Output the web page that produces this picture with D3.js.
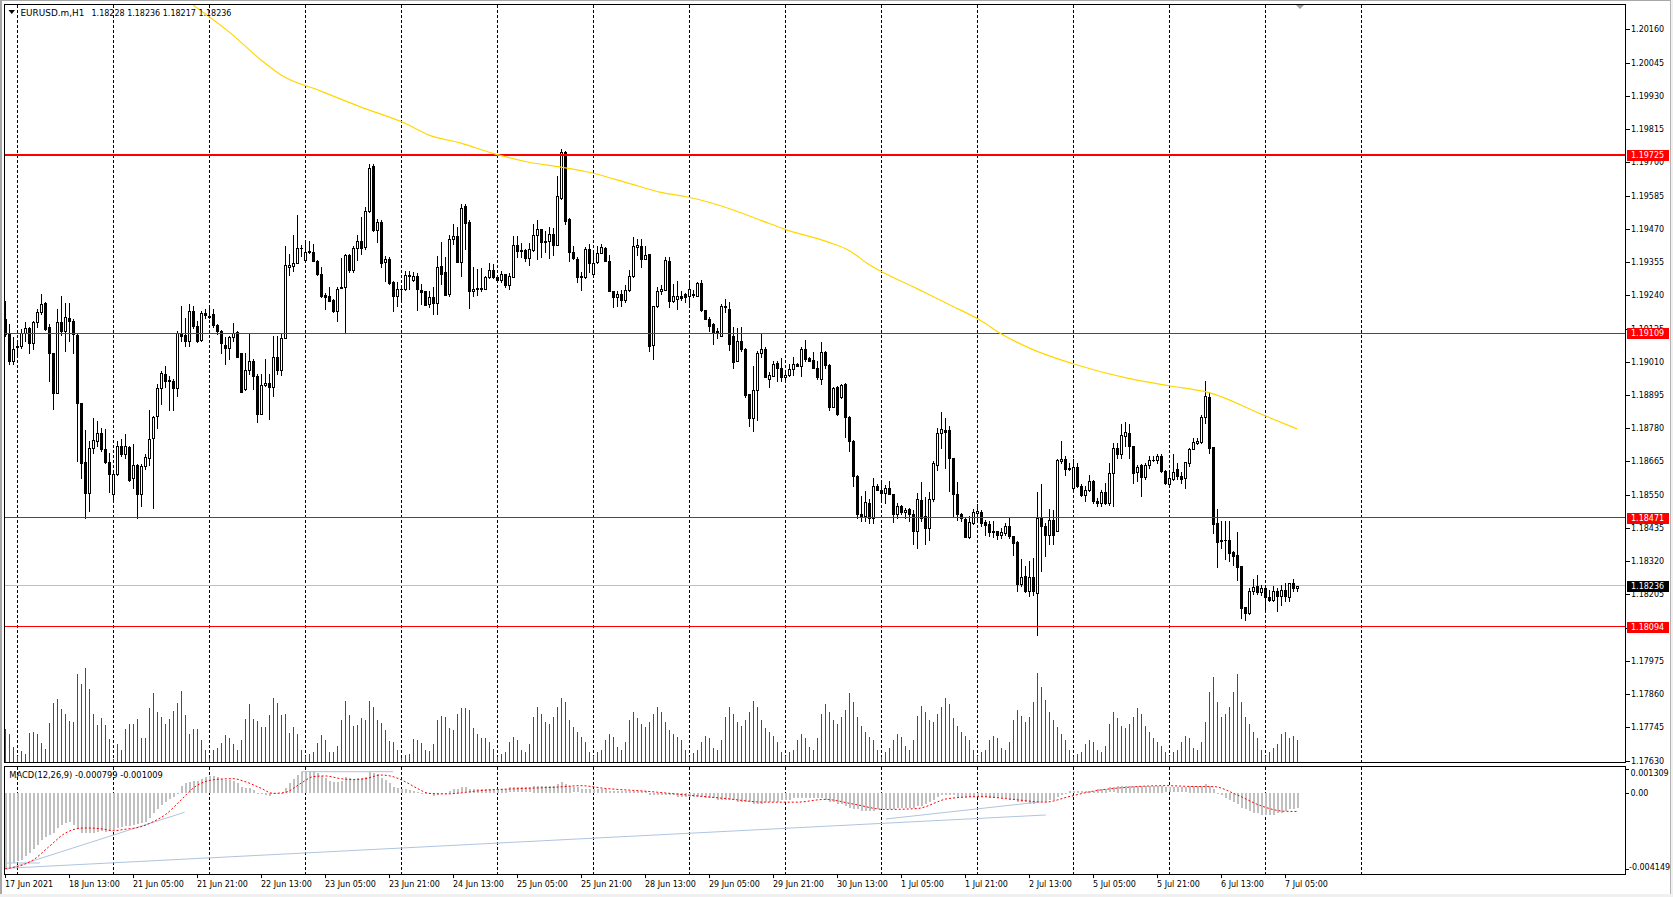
<!DOCTYPE html>
<html><head><meta charset="utf-8">
<script src="https://cdn.jsdelivr.net/npm/d3@7"></script>
<style>
body{margin:0;background:#fff;overflow:hidden;}
svg{display:block;}
text{font-family:"DejaVu Sans",sans-serif;}
</style>
</head><body>
<svg id="c" width="1673" height="897"></svg>
<script>
// ---------------- DATA ----------------
const symbol = "EURUSD.m,H1";
const lastOHLC = ["1.18228","1.18236","1.18217","1.18236"];
const macdTitle = "MACD(12,26,9) -0.000799 -0.001009";

const open = [
1.19158,1.19111,1.19013,1.19060,1.19065,1.19111,1.19126,1.19074,1.19146,1.19181,
1.19213,1.19131,1.19040,1.18903,1.19146,1.19117,1.19160,1.19152,1.19103,1.18866,
1.18663,1.18557,1.18710,1.18736,1.18765,1.18707,1.18664,1.18551,1.18623,1.18719,
1.18692,1.18715,1.18609,1.18653,1.18553,1.18649,1.18678,1.18747,1.18823,1.18918,
1.18967,1.18946,1.18942,1.18918,1.19106,1.19102,1.19083,1.19184,1.19134,1.19085,
1.19178,1.19169,1.19175,1.19138,1.19115,1.19069,1.19059,1.19094,1.19114,1.19040,
1.18917,1.18982,1.19013,1.18961,1.18831,1.18930,1.18936,1.18921,1.19027,1.18982,
1.19092,1.19337,1.19340,1.19352,1.19404,1.19363,1.19391,1.19389,1.19360,1.19314,
1.19242,1.19239,1.19224,1.19187,1.19265,1.19270,1.19381,1.19329,1.19404,1.19426,
1.19406,1.19530,1.19686,1.19466,1.19495,1.19354,1.19366,1.19287,1.19236,1.19262,
1.19262,1.19310,1.19293,1.19308,1.19258,1.19254,1.19210,1.19235,1.19212,1.19340,
1.19320,1.19245,1.19433,1.19444,1.19355,1.19548,1.19492,1.19254,1.19266,1.19260,
1.19261,1.19303,1.19326,1.19303,1.19293,1.19314,1.19274,1.19303,1.19415,1.19393,
1.19397,1.19368,1.19395,1.19449,1.19470,1.19424,1.19426,1.19453,1.19415,1.19577,
1.19736,1.19505,1.19391,1.19366,1.19305,1.19303,1.19399,1.19314,1.19355,1.19387,
1.19404,1.19360,1.19256,1.19233,1.19245,1.19222,1.19259,1.19306,1.19406,1.19409,
1.19366,1.19383,1.19068,1.19204,1.19254,1.19259,1.19360,1.19219,1.19227,1.19236,
1.19245,1.19239,1.19244,1.19239,1.19282,1.19189,1.19158,1.19141,1.19118,1.19100,
1.19202,1.19193,1.19098,1.19014,1.19083,1.19054,1.18898,1.18817,1.18912,1.19040,
1.19054,1.18950,1.18962,1.19004,1.18988,1.18956,1.18965,1.18985,1.19002,1.18996,
1.19054,1.19023,1.19016,1.18988,1.18950,1.19043,1.19000,1.18855,1.18923,1.18889,
1.18933,1.18819,1.18736,1.18615,1.18482,1.18476,1.18521,1.18470,1.18580,1.18568,
1.18557,1.18574,1.18553,1.18484,1.18511,1.18491,1.18499,1.18484,1.18424,1.18532,
1.18476,1.18436,1.18534,1.18653,1.18763,1.18774,1.18773,1.18676,1.18551,1.18484,
1.18467,1.18403,1.18453,1.18487,1.18490,1.18455,1.18449,1.18424,1.18424,1.18412,
1.18418,1.18441,1.18407,1.18386,1.18241,1.18268,1.18216,1.18264,1.18210,1.18470,
1.18441,1.18412,1.18464,1.18426,1.18667,1.18675,1.18643,1.18574,1.18646,1.18580,
1.18549,1.18565,1.18597,1.18530,1.18522,1.18559,1.18522,1.18626,1.18713,1.18690,
1.18754,1.18763,1.18719,1.18630,1.18652,1.18612,1.18653,1.18669,1.18669,1.18684,
1.18632,1.18588,1.18603,1.18638,1.18615,1.18607,1.18661,1.18709,1.18730,1.18734,
1.18819,1.18888,1.18715,1.18453,1.18389,1.18395,1.18395,1.18351,1.18343,1.18303,
1.18160,1.18141,1.18218,1.18233,1.18214,1.18227,1.18195,1.18187,1.18216,1.18199,
1.18222,1.18196,1.18243,1.18228];

const high = [
1.19221,1.19140,1.19094,1.19083,1.19123,1.19146,1.19129,1.19152,1.19192,1.19244,
1.19215,1.19140,1.19042,1.19192,1.19239,1.19212,1.19212,1.19158,1.19111,1.18866,
1.18773,1.18736,1.18817,1.18805,1.18782,1.18776,1.18695,1.18626,1.18736,1.18744,
1.18759,1.18719,1.18724,1.18655,1.18655,1.18690,1.18842,1.18823,1.18932,1.18979,
1.18996,1.18961,1.18950,1.19115,1.19204,1.19163,1.19210,1.19204,1.19152,1.19187,
1.19192,1.19198,1.19192,1.19140,1.19120,1.19094,1.19100,1.19144,1.19117,1.19040,
1.19042,1.19108,1.19019,1.18967,1.18967,1.19019,1.18967,1.19100,1.19100,1.19111,
1.19409,1.19383,1.19450,1.19519,1.19415,1.19429,1.19427,1.19418,1.19362,1.19337,
1.19247,1.19268,1.19227,1.19270,1.19369,1.19383,1.19383,1.19409,1.19450,1.19510,
1.19545,1.19695,1.19693,1.19504,1.19499,1.19377,1.19372,1.19291,1.19285,1.19268,
1.19325,1.19323,1.19322,1.19316,1.19279,1.19256,1.19254,1.19268,1.19377,1.19424,
1.19372,1.19450,1.19485,1.19476,1.19557,1.19557,1.19499,1.19337,1.19331,1.19335,
1.19308,1.19351,1.19349,1.19308,1.19323,1.19314,1.19316,1.19444,1.19444,1.19420,
1.19401,1.19420,1.19485,1.19501,1.19470,1.19464,1.19476,1.19474,1.19652,1.19747,
1.19739,1.19508,1.19409,1.19372,1.19320,1.19406,1.19418,1.19395,1.19412,1.19416,
1.19406,1.19378,1.19256,1.19256,1.19259,1.19277,1.19328,1.19441,1.19435,1.19435,
1.19412,1.19383,1.19204,1.19268,1.19274,1.19374,1.19374,1.19279,1.19289,1.19254,
1.19248,1.19291,1.19259,1.19285,1.19293,1.19189,1.19164,1.19143,1.19127,1.19210,
1.19227,1.19216,1.19129,1.19127,1.19129,1.19058,1.18900,1.18996,1.19048,1.19108,
1.19060,1.18973,1.19014,1.19014,1.19022,1.18973,1.19002,1.19025,1.19005,1.19062,
1.19085,1.19025,1.19043,1.19014,1.19077,1.19048,1.19002,1.18921,1.18927,1.18933,
1.18935,1.18823,1.18740,1.18620,1.18545,1.18563,1.18534,1.18609,1.18586,1.18597,
1.18582,1.18597,1.18553,1.18522,1.18516,1.18503,1.18505,1.18496,1.18557,1.18594,
1.18543,1.18559,1.18667,1.18782,1.18837,1.18817,1.18788,1.18678,1.18594,1.18487,
1.18468,1.18478,1.18499,1.18519,1.18496,1.18461,1.18459,1.18459,1.18426,1.18436,
1.18453,1.18470,1.18407,1.18389,1.18326,1.18303,1.18322,1.18332,1.18559,1.18586,
1.18453,1.18499,1.18496,1.18672,1.18736,1.18684,1.18661,1.18672,1.18661,1.18586,
1.18580,1.18618,1.18600,1.18540,1.18568,1.18592,1.18661,1.18730,1.18730,1.18796,
1.18800,1.18796,1.18719,1.18653,1.18657,1.18661,1.18684,1.18684,1.18690,1.18690,
1.18634,1.18632,1.18690,1.18661,1.18630,1.18664,1.18713,1.18747,1.18747,1.18826,
1.18944,1.18907,1.18715,1.18501,1.18459,1.18459,1.18459,1.18355,1.18420,1.18303,
1.18160,1.18227,1.18260,1.18274,1.18239,1.18239,1.18222,1.18233,1.18227,1.18239,
1.18245,1.18245,1.18260,1.18236];

const low = [
1.19100,1.19002,1.19002,1.19025,1.19059,1.19083,1.19040,1.19054,1.19129,1.19175,
1.19121,1.18944,1.18846,1.18901,1.19103,1.19046,1.19083,1.19042,1.18667,1.18609,
1.18470,1.18493,1.18695,1.18719,1.18701,1.18661,1.18560,1.18534,1.18620,1.18684,
1.18678,1.18597,1.18574,1.18470,1.18511,1.18638,1.18653,1.18505,1.18782,1.18863,
1.18921,1.18842,1.18842,1.18892,1.19083,1.19065,1.19065,1.19126,1.19077,1.19083,
1.19163,1.19163,1.19129,1.19106,1.19042,1.19002,1.19019,1.19083,1.19025,1.18907,
1.18912,1.18967,1.18915,1.18803,1.18831,1.18927,1.18811,1.18892,1.18967,1.18965,
1.19092,1.19310,1.19323,1.19352,1.19377,1.19360,1.19387,1.19358,1.19311,1.19233,
1.19192,1.19221,1.19181,1.19152,1.19265,1.19109,1.19320,1.19320,1.19362,1.19383,
1.19400,1.19528,1.19464,1.19424,1.19337,1.19291,1.19279,1.19187,1.19202,1.19227,
1.19258,1.19262,1.19291,1.19189,1.19210,1.19207,1.19200,1.19175,1.19175,1.19279,
1.19242,1.19239,1.19418,1.19355,1.19308,1.19401,1.19195,1.19239,1.19241,1.19256,
1.19261,1.19300,1.19300,1.19285,1.19285,1.19268,1.19260,1.19303,1.19372,1.19372,
1.19358,1.19343,1.19393,1.19366,1.19372,1.19389,1.19368,1.19381,1.19415,1.19574,
1.19487,1.19360,1.19366,1.19285,1.19259,1.19300,1.19320,1.19312,1.19351,1.19386,
1.19358,1.19254,1.19198,1.19204,1.19204,1.19216,1.19256,1.19303,1.19378,1.19337,
1.19364,1.19048,1.19019,1.19198,1.19245,1.19259,1.19198,1.19216,1.19193,1.19222,
1.19216,1.19198,1.19233,1.19239,1.19187,1.19158,1.19118,1.19071,1.19092,1.19100,
1.19181,1.19051,1.18988,1.19011,1.19048,1.18889,1.18788,1.18771,1.18808,1.19025,
1.18956,1.18923,1.18959,1.18944,1.18944,1.18950,1.18959,1.18965,1.18994,1.18962,
1.19014,1.19014,1.18988,1.18950,1.18933,1.18990,1.18843,1.18854,1.18826,1.18886,
1.18750,1.18702,1.18580,1.18470,1.18459,1.18459,1.18453,1.18453,1.18565,1.18534,
1.18522,1.18551,1.18455,1.18470,1.18482,1.18470,1.18459,1.18380,1.18366,1.18459,
1.18378,1.18395,1.18530,1.18635,1.18713,1.18644,1.18563,1.18476,1.18464,1.18459,
1.18403,1.18401,1.18450,1.18464,1.18441,1.18412,1.18407,1.18403,1.18397,1.18401,
1.18412,1.18401,1.18343,1.18216,1.18233,1.18212,1.18199,1.18204,1.18065,1.18285,
1.18337,1.18380,1.18380,1.18424,1.18661,1.18620,1.18635,1.18568,1.18576,1.18545,
1.18528,1.18563,1.18522,1.18511,1.18511,1.18519,1.18514,1.18511,1.18678,1.18678,
1.18719,1.18676,1.18592,1.18597,1.18545,1.18603,1.18643,1.18667,1.18661,1.18630,
1.18586,1.18586,1.18600,1.18603,1.18592,1.18574,1.18649,1.18707,1.18727,1.18730,
1.18799,1.18696,1.18418,1.18299,1.18366,1.18326,1.18322,1.18308,1.18256,1.18123,
1.18118,1.18137,1.18207,1.18207,1.18204,1.18156,1.18184,1.18181,1.18149,1.18170,
1.18181,1.18181,1.18218,1.18217];

const close = [
1.19106,1.19013,1.19054,1.19065,1.19111,1.19126,1.19074,1.19146,1.19181,1.19210,
1.19123,1.19040,1.18901,1.19146,1.19115,1.19166,1.19150,1.19106,1.18869,1.18661,
1.18557,1.18710,1.18738,1.18765,1.18707,1.18664,1.18623,1.18623,1.18719,1.18692,
1.18719,1.18601,1.18653,1.18553,1.18649,1.18680,1.18742,1.18819,1.18918,1.18970,
1.18944,1.18942,1.18918,1.19111,1.19100,1.19083,1.19184,1.19132,1.19083,1.19178,
1.19173,1.19166,1.19138,1.19115,1.19074,1.19059,1.19094,1.19111,1.19028,1.18907,
1.18982,1.19013,1.18961,1.18831,1.18930,1.18936,1.18924,1.19025,1.18982,1.19092,
1.19343,1.19343,1.19352,1.19404,1.19402,1.19391,1.19393,1.19360,1.19314,1.19236,
1.19233,1.19221,1.19187,1.19262,1.19270,1.19381,1.19329,1.19404,1.19426,1.19404,
1.19530,1.19681,1.19466,1.19495,1.19351,1.19366,1.19281,1.19236,1.19262,1.19260,
1.19310,1.19308,1.19308,1.19262,1.19250,1.19207,1.19235,1.19212,1.19339,1.19314,
1.19242,1.19433,1.19444,1.19355,1.19543,1.19490,1.19254,1.19262,1.19260,1.19266,
1.19303,1.19326,1.19303,1.19293,1.19314,1.19274,1.19308,1.19415,1.19393,1.19397,
1.19368,1.19401,1.19449,1.19470,1.19424,1.19426,1.19453,1.19415,1.19582,1.19736,
1.19497,1.19389,1.19368,1.19303,1.19303,1.19401,1.19352,1.19351,1.19386,1.19406,
1.19360,1.19256,1.19233,1.19245,1.19222,1.19259,1.19306,1.19412,1.19415,1.19366,
1.19381,1.19066,1.19204,1.19254,1.19262,1.19363,1.19219,1.19236,1.19236,1.19231,
1.19233,1.19262,1.19242,1.19282,1.19189,1.19158,1.19135,1.19112,1.19109,1.19202,
1.19198,1.19071,1.19008,1.19081,1.19054,1.18896,1.18817,1.18912,1.19040,1.19054,
1.18956,1.18964,1.19002,1.18988,1.18956,1.18964,1.18985,1.19002,1.18996,1.19054,
1.19019,1.19014,1.18988,1.18956,1.19043,1.19000,1.18855,1.18919,1.18829,1.18929,
1.18819,1.18736,1.18615,1.18482,1.18476,1.18525,1.18470,1.18580,1.18568,1.18557,
1.18574,1.18553,1.18482,1.18511,1.18491,1.18496,1.18484,1.18424,1.18534,1.18470,
1.18436,1.18534,1.18661,1.18763,1.18776,1.18767,1.18676,1.18551,1.18482,1.18468,
1.18403,1.18455,1.18490,1.18493,1.18453,1.18445,1.18420,1.18422,1.18409,1.18422,
1.18441,1.18407,1.18384,1.18241,1.18264,1.18216,1.18264,1.18218,1.18470,1.18441,
1.18412,1.18464,1.18412,1.18669,1.18675,1.18638,1.18638,1.18646,1.18580,1.18549,
1.18565,1.18597,1.18528,1.18522,1.18559,1.18522,1.18626,1.18713,1.18690,1.18756,
1.18767,1.18719,1.18626,1.18647,1.18612,1.18652,1.18669,1.18670,1.18684,1.18632,
1.18592,1.18607,1.18630,1.18615,1.18603,1.18663,1.18709,1.18732,1.18736,1.18819,
1.18891,1.18713,1.18449,1.18387,1.18395,1.18393,1.18349,1.18337,1.18300,1.18158,
1.18141,1.18218,1.18230,1.18214,1.18227,1.18195,1.18187,1.18216,1.18199,1.18222,
1.18199,1.18243,1.18228,1.18236];

// tick volume (hundreds of ticks)
const volume = [
33,28,15,6,11,8,29,30,28,19,13,39,59,63,53,48,41,40,88,78,94,73,48,37,44,37,23,
3,18,12,33,38,38,43,24,24,54,69,50,45,38,43,51,59,71,47,28,33,33,22,12,
4,12,14,19,27,24,18,12,22,43,58,43,41,35,35,47,64,59,47,48,29,35,28,12,
6,8,10,19,27,22,10,10,16,42,61,47,36,37,44,42,61,55,42,39,32,21,20,12,
4,7,8,23,22,19,12,11,18,42,46,45,34,32,48,54,54,52,34,28,24,24,20,13,
5,8,10,20,25,22,12,10,18,45,55,48,40,38,45,55,64,60,42,35,30,25,20,10,
6,10,12,22,28,25,15,12,20,42,50,44,38,35,40,48,55,50,40,32,28,25,22,12,
5,9,12,20,26,24,14,12,22,45,55,48,40,36,42,50,61,55,42,34,30,26,20,10,
6,10,12,22,28,24,15,12,24,48,58,50,42,38,45,52,69,60,45,36,30,25,22,12,
5,10,14,22,28,25,16,12,22,46,56,50,42,40,48,55,64,58,44,36,30,26,22,12,
6,10,12,22,26,24,14,12,20,42,52,46,40,45,60,89,75,62,50,42,35,28,22,12,
5,8,10,18,22,20,12,10,16,38,50,44,36,34,38,45,54,48,36,30,24,20,16,10,
6,10,12,20,26,24,14,12,20,40,70,85,60,45,48,55,70,88,60,45,38,30,24,12,
6,10,14,18,28,30,24,26,22];

// MACD main (histogram)
const macdHist = [
-0.004149,-0.00406,-0.00384,-0.0037,-0.00366,-0.00344,-0.00329,-0.00307,-0.00284,-0.00257,
-0.00242,-0.00229,-0.0022,-0.00193,-0.00175,-0.00165,-0.00157,-0.00175,-0.00198,-0.00217,
-0.0022,-0.0022,-0.00217,-0.00211,-0.00207,-0.00211,-0.00207,-0.00202,-0.00193,-0.00187,
-0.0018,-0.0018,-0.00175,-0.00169,-0.00165,-0.0016,-0.00138,-0.00111,-0.00089,-0.00066,
-0.00047,-0.00034,-0.0002,-0.00005,0.00038,0.00053,0.00062,0.00066,0.00066,0.00075,
0.00086,0.00093,0.00093,0.00086,0.00075,0.00071,0.00071,0.00067,0.00056,0.00034,
0.00026,0.00026,0.00016,-0.00005,-0.00008,-0.00012,-0.00016,-0.00007,-0.00002,-0.00002,
0.00026,0.00056,0.00075,0.00098,0.00116,0.00121,0.0012,0.0012,0.00107,0.00093,
0.0008,0.00067,0.00062,0.00062,0.00067,0.00086,0.0008,0.00075,0.0008,0.0008,
0.00089,0.00116,0.00111,0.00104,0.0008,0.00071,0.00053,0.00034,0.00026,0.0002,
0.0002,0.00016,0.00011,0.00005,-0.00002,-0.00005,-0.00007,-0.00016,-0.00012,-0.00008,
-0.00008,
0.0001,0.0002,0.0002,0.0003,0.0003,0.0002,0.0002,0.0002,0.0002,0.0002,0.0002,0.0002,0.0002,0.0002,0.0002,0.0003,0.0003,0.0003,0.0003,0.0003,0.0003,0.0004,0.0004,0.0004,0.0004,0.0004,0.0004,
0.0005,0.0006,0.0005,0.0004,0.0003,
0.0003,0.0002,0.0002,0.0002,0.0002,0.0002,0.0002,0.0002,0.0001,0.0001,0.0001,0.0001,0.0001,0.0001,0.0001,0.0001,0.0001,0.0001,
-0.0001,-0.0001,-0.0001,-0.0001,-0.0001,-0.0001,-0.0001,-0.0002,-0.0002,-0.0002,-0.0002,-0.0002,-0.0002,-0.0002,-0.0003,
-0.0003,-0.0003,-0.0004,-0.0004,-0.0004,-0.0004,-0.0004,-0.0005,-0.0005,-0.0005,-0.0005,-0.0006,-0.0006,-0.0006,-0.0005,-0.0005,-0.0005,-0.0005,-0.0004,-0.0004,
-0.0004,-0.0003,-0.0003,-0.0003,-0.0003,-0.0003,-0.0003,-0.0003,-0.0003,-0.0004,
-0.0005,-0.0005,-0.0006,-0.0006,-0.0007,-0.0008,-0.0009,-0.0009,-0.001,-0.001,-0.001,-0.001,-0.0009,-0.0009,-0.0009,-0.0009,-0.0009,-0.0008,-0.0008,-0.0008,
-0.0008,-0.0008,-0.0007,-0.0007,-0.0006,-0.0005,-0.0004,-0.0002,-0.0001,-0.0001,
-0.0001,-0.0001,-0.0002,-0.0002,-0.0002,-0.0002,-0.0002,-0.0002,-0.0002,-0.0002,
-0.0003,-0.0003,-0.0003,-0.0003,-0.0003,-0.0004,-0.0004,-0.0005,-0.0005,-0.0005,-0.0006,-0.0006,-0.0005,-0.0005,-0.0005,-0.0004,-0.0004,
-0.0002,-0.0001,0,0.0001,0.0001,0.0001,0.0001,0.0001,
0.0001,0.0001,0.0002,0.0002,0.0002,0.0003,0.0003,0.0004,0.0004,0.0004,0.0004,0.0004,0.0004,0.0004,0.0004,0.0004,0.0004,0.0004,0.0004,0.0003,0.0003,0.0003,0.0003,0.0003,0.0003,0.0004,0.0004,0.0004,0.0004,0.0005,
0.0004,0.0002,0,-0.0001,-0.0003,
-0.0004,-0.0005,-0.0006,-0.0008,-0.0009,-0.001,-0.0011,-0.0011,-0.0012,-0.0012,-0.0012,-0.0012,-0.0011,-0.0011,-0.001,-0.0009,-0.0009,-0.000799];

// MACD signal, read at these bars
const signalBars = [0,7,11,15,18,20,24,27,30,34,37,40,44,47,50,54,57,60,64,67,70,74,77,80,84,87,90,94,97,100,103,106,110,120,130,138,144,150,160,170,180,190,198,205,212,220,228,236,244,252,260,266,272,280,290,298,302,308,314,320,323];
const signalVals = [-0.00414,-0.00366,-0.00293,-0.0022,-0.00195,-0.00191,-0.00195,-0.00206,-0.00198,-0.00184,-0.00157,-0.0012,-0.00038,0.00026,0.00062,0.00076,0.00078,0.00062,0.00026,-0.00002,0.00003,0.00053,0.00089,0.00093,0.00078,0.00073,0.00078,0.00098,0.00089,0.00062,0.00026,-0.00002,-0.00005,0.00015,0.00025,0.00032,0.0004,0.00025,0.0001,-0.0001,-0.0003,-0.0005,-0.0005,-0.00035,-0.0006,-0.0009,-0.00085,-0.0003,-0.0002,-0.00035,-0.0005,-0.0002,0.0001,0.0003,0.0004,0.00035,0.00035,-0.0001,-0.0007,-0.001,-0.001009];

// Moving average (yellow), read at these bars
const maBars = [47,56,64,69,79,89,100,106,114,122,131,139,147,156,164,171,181,189,195,206,211,216,228,236,244,249,257,267,280,291,301,315,323];
const maVals = [1.20244,1.20151,1.20054,1.20002,1.19946,1.19891,1.19835,1.19794,1.19766,1.19731,1.19700,1.19683,1.19662,1.19627,1.19596,1.19579,1.19540,1.19499,1.19468,1.19423,1.19395,1.19346,1.19263,1.19208,1.19152,1.19107,1.19052,1.19003,1.18955,1.18927,1.18903,1.18823,1.18778];

// horizontal levels
const levels = [1.19725,1.19109,1.18471,1.18094];
const currentPrice = 1.18236;

// trendlines on MACD window: [bar0, value0, bar1, value1]
const macdTrendlines = [
  [0.35,-0.004165,44.9,-0.001053],
  [0.35,-0.00411,260.2,-0.00120],
  [74.1,0.001163,97,0.001163],
  [0.4,-0.00382,8.7,-0.00382],
  [220.2,-0.00142,258.7,-0.00049]
];

const priceTicks = [1.20160,1.20045,1.19930,1.19815,1.19700,1.19585,1.19470,1.19355,1.19240,1.19125,1.19010,1.18895,1.18780,1.18665,1.18550,1.18435,1.18320,1.18205,1.18090,1.17975,1.17860,1.17745,1.17630];
const macdTicks = [0.001309,0,-0.004149];
const macdTickLabels = ["0.001309","0.00","-0.004149"];

const xTickBars = [0,16,32,48,64,80,96,112,128,144,160,176,192,208,224,240,256,272,288,304,320];
const xTickLabels = ["17 Jun 2021","18 Jun 13:00","21 Jun 05:00","21 Jun 21:00","22 Jun 13:00","23 Jun 05:00","23 Jun 21:00","24 Jun 13:00","25 Jun 05:00","25 Jun 21:00","28 Jun 13:00","29 Jun 05:00","29 Jun 21:00","30 Jun 13:00","1 Jul 05:00","1 Jul 21:00","2 Jul 13:00","5 Jul 05:00","5 Jul 21:00","6 Jul 13:00","7 Jul 05:00"];
const gridBars = [3,27,51,75,99,123,147,171,195,219,243,267,291,315,339];

// ---------------- DRAW ----------------
const svg = d3.select("#c");
const n = close.length;
const x = d3.scaleLinear().domain([0, n - 1]).range([5, 1297]);
const y = d3.scaleLinear().domain([1.17630, 1.20160]).range([760.7, 29.3]);
const vy = d3.scaleLinear().domain([0, 100]).range([762, 662]);
const my = d3.scaleLinear().domain([-0.004149, 0.001309]).range([869, 769]);
const col = i => Math.round(x(i));

const PL = 4.5, PR = 1625.5, PT = 4.5, PB = 762.5, MT = 766.5, MB = 874.5;

svg.append("rect").attr("width",1673).attr("height",897).attr("fill","#fff");
// window frame
svg.append("rect").attr("x",0).attr("y",0).attr("width",2).attr("height",897).attr("fill","#A8A8A8");
svg.append("rect").attr("x",0).attr("y",0).attr("width",1673).attr("height",1).attr("fill","#A8A8A8");
svg.append("rect").attr("x",1670).attr("y",0).attr("width",3).attr("height",897).attr("fill","#F0F0F0");
svg.append("rect").attr("x",1670).attr("y",0).attr("width",1).attr("height",897).attr("fill","#B4B4B4");
svg.append("rect").attr("x",0).attr("y",894).attr("width",1673).attr("height",3).attr("fill","#F0F0F0");

const defs = svg.append("defs");
defs.append("clipPath").attr("id","cm").append("rect").attr("x",5).attr("y",5).attr("width",1620).attr("height",757);
defs.append("clipPath").attr("id","cd").append("rect").attr("x",5).attr("y",767).attr("width",1620).attr("height",107);

const main = svg.append("g").attr("clip-path","url(#cm)").attr("shape-rendering","crispEdges");
const mac = svg.append("g").attr("clip-path","url(#cd)").attr("shape-rendering","crispEdges");

// grid
gridBars.forEach(b => {
  const gx = col(b) + 0.5;
  main.append("line").attr("x1",gx).attr("x2",gx).attr("y1",5).attr("y2",762)
    .attr("stroke","#000").attr("stroke-width",1).attr("stroke-dasharray","3,2");
  mac.append("line").attr("x1",gx).attr("x2",gx).attr("y1",767).attr("y2",874)
    .attr("stroke","#000").attr("stroke-width",1).attr("stroke-dasharray","3,2");
});

// volumes
main.append("g").selectAll("rect").data(volume).join("rect")
  .attr("x",(d,i)=>col(i)).attr("width",1)
  .attr("y",d=>Math.round(vy(d))).attr("height",d=>762-Math.round(vy(d)))
  .attr("fill","#008000");

// current price line
const cpY = Math.floor(y(currentPrice)) + 0.5;
main.append("line").attr("x1",5).attr("x2",1625).attr("y1",cpY).attr("y2",cpY).attr("stroke","#C0C0C0");

// candles
const cg = main.append("g");
for (let i = 0; i < n; i++) {
  const c = col(i);
  const yh = Math.round(y(high[i])), yl = Math.round(y(low[i]));
  cg.append("rect").attr("x",c).attr("y",yh).attr("width",1).attr("height",Math.max(1,yl-yh+1)).attr("fill","#000");
  const top = Math.round(y(Math.max(open[i],close[i])));
  const bot = Math.round(y(Math.min(open[i],close[i])));
  const bull = close[i] >= open[i];
  if (bot - top < 1) {
    cg.append("rect").attr("x",c-1).attr("y",top).attr("width",3).attr("height",1).attr("fill","#000");
  } else {
    cg.append("rect").attr("x",c-0.5).attr("y",top+0.5).attr("width",2).attr("height",bot-top)
      .attr("fill",bull?"#fff":"#000").attr("stroke","#000").attr("stroke-width",1);
  }
}

// MA line
const maPts = maBars.map((b,i)=>[b,maVals[i]]);
svg.append("g").attr("clip-path","url(#cm)").append("path")
  .attr("d", d3.line().x(d=>x(d[0])).y(d=>y(d[1])).curve(d3.curveMonotoneX)(maPts))
  .attr("fill","none").attr("stroke","#FFD700").attr("stroke-width",1.2);

// levels
levels.forEach((p,k) => {
  if (k === 0) {
    main.append("rect").attr("x",5).attr("width",1620).attr("y",Math.round(y(p))-1).attr("height",2).attr("fill","#FF0000");
  } else {
    const ly = Math.floor(y(p)) + 0.5;
    main.append("line").attr("x1",5).attr("x2",1625).attr("y1",ly).attr("y2",ly).attr("stroke","#FF0000");
  }
});

// MACD histogram
mac.append("g").selectAll("rect").data(macdHist).join("rect")
  .attr("x",(d,i)=>col(i)).attr("width",2)
  .attr("y",d=>Math.round(Math.min(my(0),my(d))))
  .attr("height",d=>Math.max(1,Math.round(Math.abs(my(d)-my(0)))))
  .attr("fill","#C0C0C0");

// trendlines
const tg = svg.append("g").attr("clip-path","url(#cd)");
macdTrendlines.forEach(t => {
  tg.append("line").attr("x1",x(t[0])).attr("y1",my(t[1])).attr("x2",x(t[2])).attr("y2",my(t[3]))
    .attr("stroke","#B0C4DE").attr("stroke-width",1);
});

// signal line
const sigPts = signalBars.map((b,i)=>[b,signalVals[i]]);
svg.append("g").attr("clip-path","url(#cd)").append("path")
  .attr("d", d3.line().x(d=>x(d[0])).y(d=>my(d[1])).curve(d3.curveMonotoneX)(sigPts))
  .attr("fill","none").attr("stroke","#FF0000").attr("stroke-width",1).attr("stroke-dasharray","2,2");

// pane borders
svg.append("rect").attr("x",PL).attr("y",PT).attr("width",PR-PL).attr("height",PB-PT)
  .attr("fill","none").attr("stroke","#000").attr("shape-rendering","crispEdges");
svg.append("rect").attr("x",PL).attr("y",MT).attr("width",PR-PL).attr("height",MB-MT)
  .attr("fill","none").attr("stroke","#000").attr("shape-rendering","crispEdges");

// right price axis
const ax = svg.append("g").attr("shape-rendering","crispEdges");
priceTicks.forEach(p => {
  const ty = Math.round(y(p)) + 0.5;
  ax.append("line").attr("x1",1626).attr("x2",1630).attr("y1",ty).attr("y2",ty).attr("stroke","#000");
  svg.append("text").attr("x",1631).attr("y",y(p)+3).attr("font-size",8).attr("fill","#000").text(p.toFixed(5));
});
macdTicks.forEach((v,k) => {
  const ty = Math.round(my(v)) + 0.5;
  ax.append("line").attr("x1",1626).attr("x2",1629).attr("y1",ty).attr("y2",ty).attr("stroke","#000");
  const by = Math.min(870, Math.max(775.5, my(v) + 3));
  svg.append("text").attr("x", k===2 ? 1629 : 1630.5).attr("y",by).attr("font-size",8).attr("fill","#000").text(macdTickLabels[k]);
});

// level boxes
function priceBox(p, fill) {
  const cy = y(p);
  svg.append("rect").attr("x",1626.5).attr("y",Math.round(cy)-5.5).attr("width",42).attr("height",11)
    .attr("fill",fill).attr("shape-rendering","crispEdges");
  svg.append("text").attr("x",1631).attr("y",cy+3).attr("font-size",8).attr("fill","#fff").text(p.toFixed(5));
}
levels.forEach(p => priceBox(p, "#FF0000"));
priceBox(currentPrice, "#000");

// bottom time axis
xTickBars.forEach((b,k) => {
  const tx = col(b) + 0.5;
  ax.append("line").attr("x1",tx).attr("x2",tx).attr("y1",875).attr("y2",878).attr("stroke","#000");
  svg.append("text").attr("x",col(b)).attr("y",887).attr("font-size",8).attr("fill","#000").text(xTickLabels[k]);
});

// title
svg.append("path").attr("d","M8.5,10 L15,10 L11.75,14 Z").attr("fill","#000");
svg.append("text").attr("x",20.5).attr("y",15.6).attr("font-size",8.9).attr("fill","#000").text(symbol);
svg.append("text").attr("x",91.5).attr("y",15.6).attr("font-size",8).attr("fill","#000").text(lastOHLC.join(" "));
svg.append("text").attr("x",9.3).attr("y",778).attr("font-size",8.3).attr("fill","#000").text(macdTitle);

// chart shift marker
svg.append("path").attr("d","M1296,5 L1304,5 L1300,9 Z").attr("fill","#A0A0A0");
</script>
</body></html>
